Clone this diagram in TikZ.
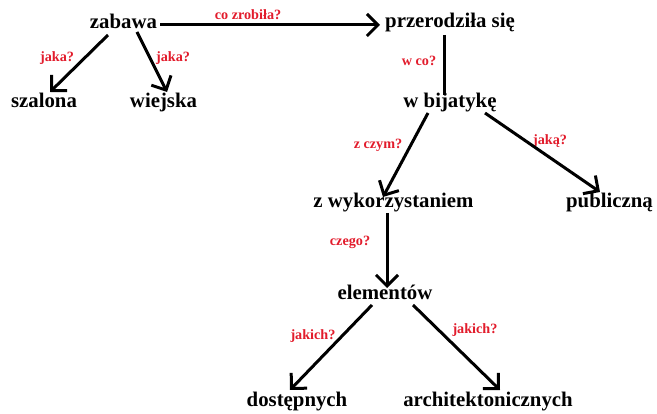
\documentclass[tikz,border=0pt]{standalone}
\usepackage{fontspec}
\setmainfont{Liberation Serif}
\usetikzlibrary{arrows.meta}
\definecolor{lbl}{RGB}{226,28,44}
\tikzset{
  word/.style={font=\bfseries\fontsize{20.8}{24}\selectfont, anchor=base, inner sep=0pt},
  qlabel/.style={font=\bfseries\fontsize{14.2}{16}\selectfont, text=lbl, anchor=base, inner sep=0pt},
  arr/.style={line width=3pt, -{Straight Barb[length=11pt,width=22pt,line width=3pt]}},
  plain/.style={line width=3pt}
}
\begin{document}
\begin{tikzpicture}[x=1pt,y=-1pt]
\useasboundingbox (0,0) rectangle (657,414);
% words
\node[word] (zabawa) at (123.5,29) {zabawa};
\node[word] (przer) at (450,28) {przerodziła się};
\node[word] (szal) at (44,108) {szalona};
\node[word] (wiej) at (163.5,108) {wiejska};
\node[word] (bij) at (450,108) {w bijatykę};
\node[word] (zwyk) at (393.5,208) {z wykorzystaniem};
\node[word] (publ) at (609.5,208) {publiczną};
\node[word] (elem) at (385,300) {elementów};
\node[word] (dost) at (297,407) {dostępnych};
\node[word] (arch) at (488,407) {architektonicznych};
% labels
\node[qlabel] (l1) at (248,20) {co zrobiła?};
\node[qlabel] (l2) at (57,62) {jaka?};
\node[qlabel] (l3) at (173,62) {jaka?};
\node[qlabel] (l4) at (419,66) {w co?};
\node[qlabel] (l5) at (378,149) {z czym?};
\node[qlabel] (l6) at (550,145) {jaką?};
\node[qlabel] (l7) at (350,246) {czego?};
\node[qlabel] (l8) at (313,340) {jakich?};
\node[qlabel] (l9) at (475,334) {jakich?};
% connectors
\draw[arr] ([shift={(36.5,-4)}]zabawa.base) -- ([shift={(-70,-3)}]przer.base);
\draw[arr] ([shift={(-15.5,6)}]zabawa.base) -- ([shift={(6,-16)}]szal.base);
\draw[arr] ([shift={(13.5,3)}]zabawa.base) -- ([shift={(3.5,-16)}]wiej.base);
\draw[plain] ([shift={(-6,7)}]przer.base) -- ([shift={(-6,-13)}]bij.base);
\draw[arr] ([shift={(-22,5)}]bij.base) -- ([shift={(-10.5,-11)}]zwyk.base);
\draw[arr] ([shift={(35,5)}]bij.base) -- ([shift={(-9.5,-16)}]publ.base);
\draw[arr] ([shift={(-6.5,5)}]zwyk.base) -- ([shift={(2,-12)}]elem.base);
\draw[arr] ([shift={(-13,5)}]elem.base) -- ([shift={(-7,-17)}]dost.base);
\draw[arr] ([shift={(28,5)}]elem.base) -- ([shift={(12,-17)}]arch.base);
\end{tikzpicture}
\end{document}
